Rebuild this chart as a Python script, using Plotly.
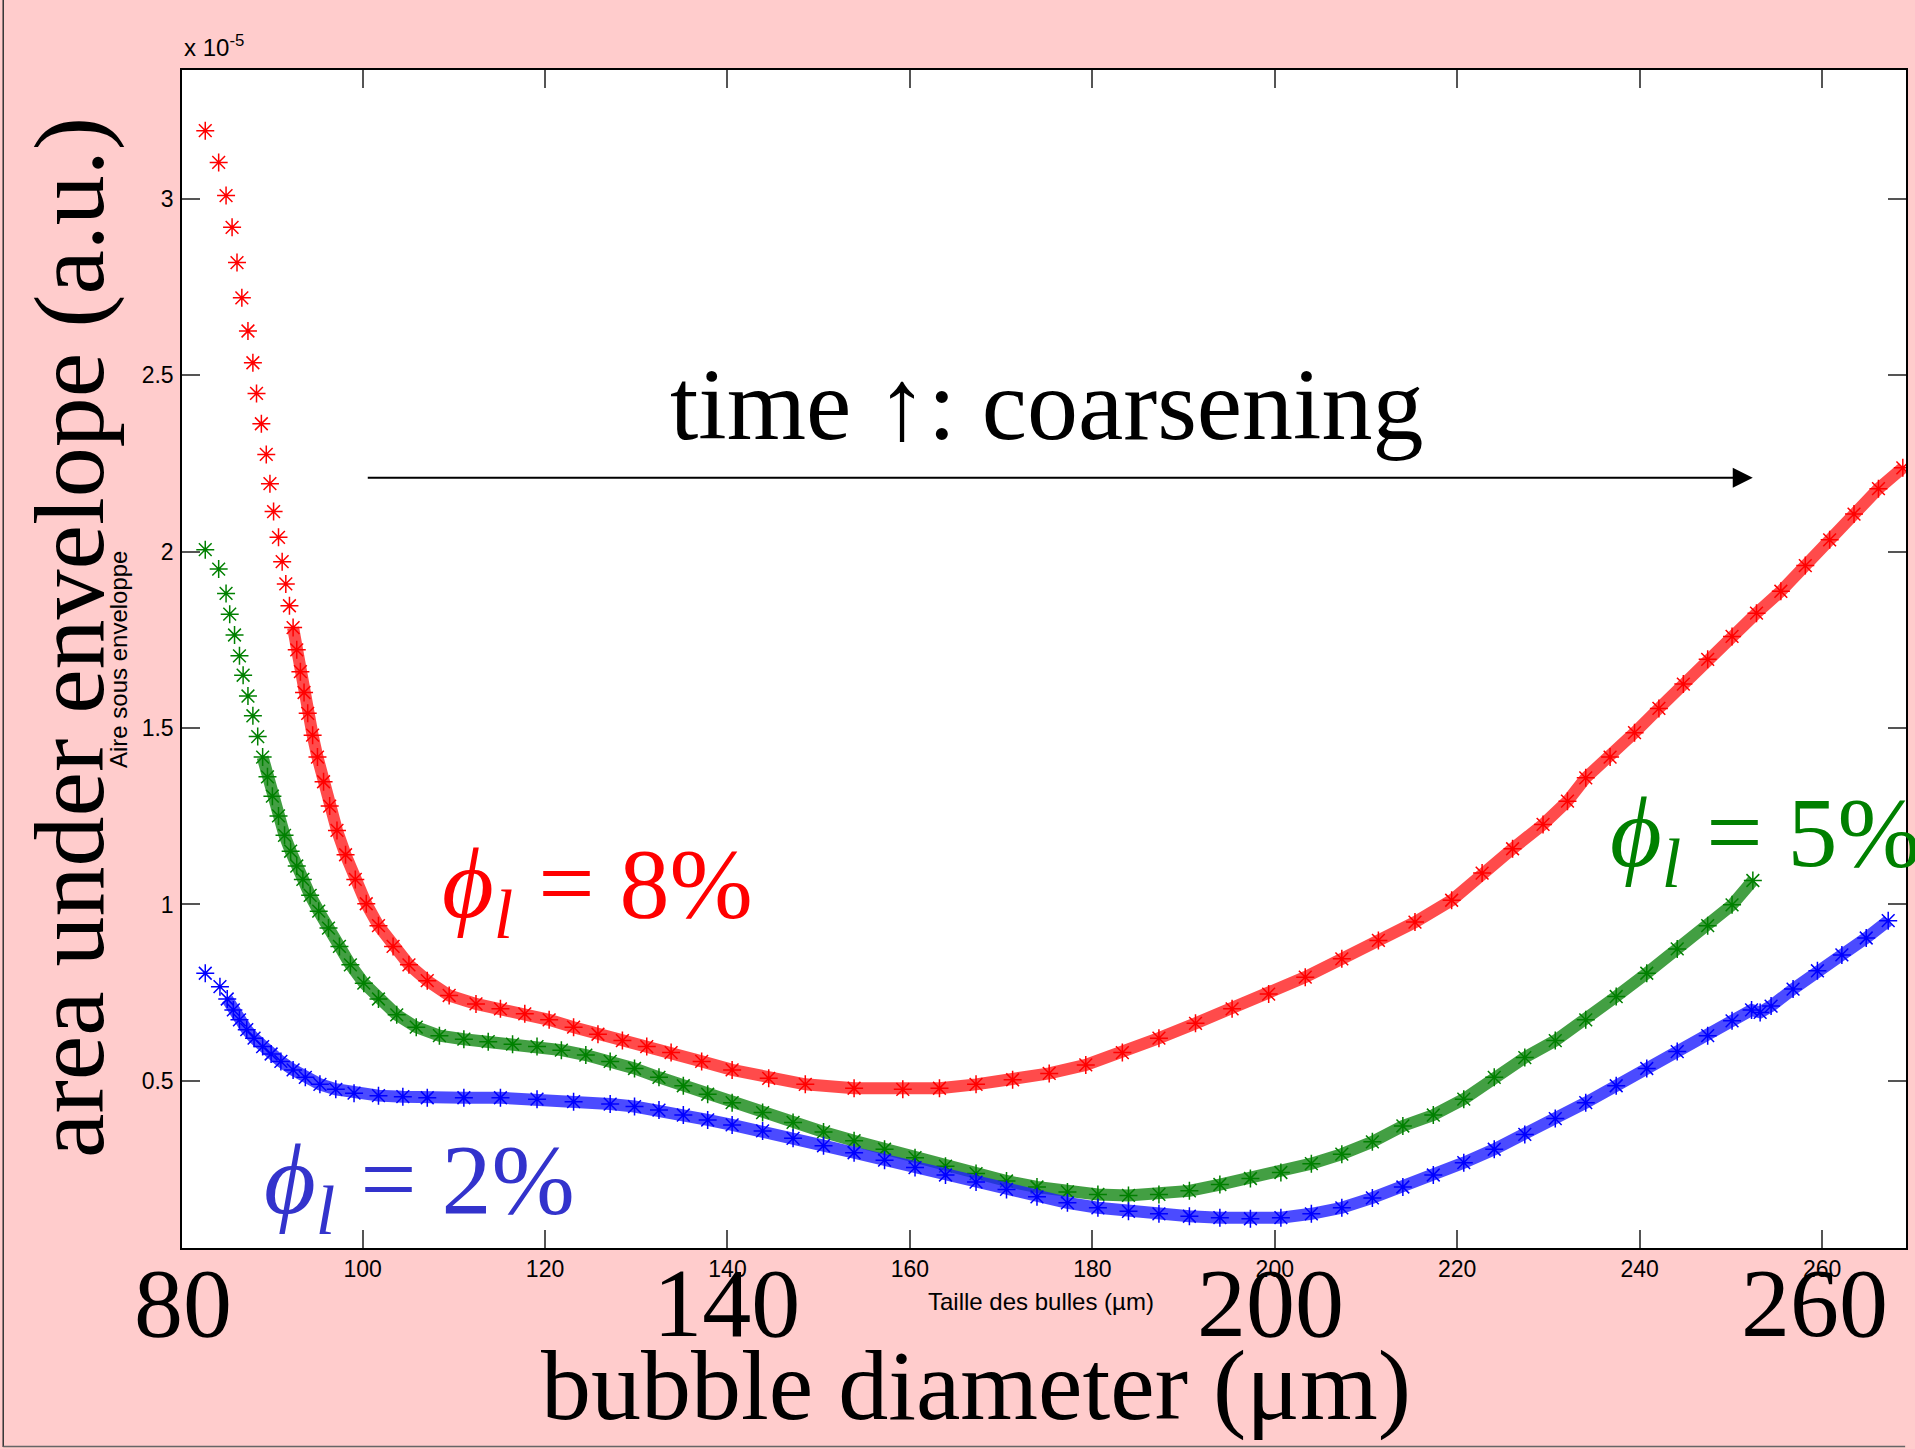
import plotly.graph_objects as go

# ---------------- data (area under envelope, units of 1e-5) ----------------
red_x = [82.75, 84.22, 85.03, 85.69, 86.23, 86.76, 87.43, 87.97, 88.37, 88.90, 89.44, 89.84, 90.24, 90.78, 91.18, 91.58, 91.98,
         92.38, 92.78, 93.18, 93.58, 93.98, 94.52, 95.05, 95.72, 96.39, 97.19, 98.13, 99.20, 100.40, 101.74, 103.34, 105.08,
         107.09, 109.49, 112.43, 115.11, 117.78, 120.45, 123.13, 125.80, 128.48, 131.15, 133.82, 137.17, 140.51, 144.52,
         148.53, 153.88, 159.22, 163.24, 167.25, 171.26, 175.27, 179.28, 183.29, 187.30, 191.31, 195.32, 199.33, 203.34,
         207.35, 211.36, 215.37, 219.39, 222.73, 226.07, 229.41, 232.09, 234.09, 236.76, 239.44, 242.11, 244.79, 247.46,
         250.13, 252.81, 255.48, 258.16, 260.83, 263.50, 266.18, 268.85]
red_y = [3.194, 3.104, 3.010, 2.920, 2.820, 2.720, 2.626, 2.536, 2.449, 2.363, 2.276, 2.193, 2.114, 2.041, 1.972, 1.909, 1.847,
         1.785, 1.722, 1.660, 1.601, 1.542, 1.480, 1.418, 1.348, 1.279, 1.210, 1.141, 1.071, 1.002, 0.940, 0.881, 0.829,
         0.784, 0.742, 0.718, 0.704, 0.690, 0.673, 0.652, 0.632, 0.614, 0.597, 0.580, 0.555, 0.531, 0.507,
         0.490, 0.479, 0.476, 0.479, 0.490, 0.503, 0.521, 0.545, 0.580, 0.621, 0.663, 0.704, 0.746, 0.794,
         0.846, 0.898, 0.950, 1.012, 1.089, 1.158, 1.227, 1.293, 1.359, 1.418, 1.487, 1.556, 1.625, 1.695,
         1.760, 1.826, 1.888, 1.961, 2.034, 2.107, 2.179, 2.238]

green_x = [82.75, 84.22, 85.03, 85.43, 85.96, 86.50, 86.90, 87.43, 87.97, 88.50, 89.04, 89.57, 90.11, 90.78, 91.44, 92.11,
           92.78, 93.45, 94.25, 95.19, 96.26, 97.46, 98.66, 100.13, 101.74, 103.74, 105.88, 108.42, 111.10, 113.77, 116.44,
           119.12, 121.79, 124.47, 127.14, 129.81, 132.49, 135.16, 137.83, 140.51, 143.85, 147.19, 150.53, 153.88, 157.22,
           160.56, 163.90, 167.25, 170.59, 173.93, 177.27, 180.61, 183.96, 187.30, 190.64, 193.98, 197.33, 200.67, 204.01,
           207.35, 210.70, 214.04, 217.38, 220.72, 224.06, 227.41, 230.75, 234.09, 237.43, 240.78, 244.12, 247.46, 250.13,
           252.41]
green_y = [2.006, 1.951, 1.882, 1.823, 1.764, 1.705, 1.650, 1.591, 1.535, 1.476, 1.418, 1.362, 1.307, 1.251, 1.196, 1.151,
           1.109, 1.071, 1.026, 0.981, 0.933, 0.881, 0.829, 0.777, 0.732, 0.687, 0.652, 0.628, 0.618, 0.611, 0.604,
           0.597, 0.587, 0.573, 0.555, 0.535, 0.510, 0.486, 0.462, 0.438, 0.410, 0.382, 0.355, 0.330, 0.306,
           0.282, 0.258, 0.237, 0.216, 0.199, 0.185, 0.178, 0.175, 0.178, 0.188, 0.206, 0.223, 0.240, 0.265,
           0.292, 0.327, 0.372, 0.403, 0.448, 0.510, 0.566, 0.614, 0.673, 0.739, 0.805, 0.874, 0.940, 0.999,
           1.068]

blue_x = [82.75, 84.36, 85.16, 85.83, 86.50, 87.30, 88.10, 89.04, 89.97, 91.04, 92.38, 93.72, 95.32, 97.06, 99.06, 101.74,
          104.41, 107.09, 111.10, 115.11, 119.12, 123.13, 127.14, 129.81, 132.49, 135.16, 137.83, 140.51, 143.85, 147.19,
          150.53, 153.88, 157.22, 160.56, 163.90, 167.25, 170.59, 173.93, 177.27, 180.61, 183.96, 187.30, 190.64, 193.98,
          197.33, 200.67, 204.01, 207.35, 210.70, 214.04, 217.38, 220.72, 224.06, 227.41, 230.75, 234.09, 237.43, 240.78,
          244.12, 247.46, 250.13, 252.27, 253.21, 254.41, 256.82, 259.49, 262.17, 264.84, 267.25]
blue_y = [0.805, 0.767, 0.732, 0.701, 0.673, 0.645, 0.621, 0.597, 0.576, 0.555, 0.531, 0.510, 0.490, 0.476, 0.465, 0.458,
          0.455, 0.452, 0.452, 0.452, 0.448, 0.441, 0.434, 0.427, 0.417, 0.403, 0.389, 0.375, 0.358, 0.337,
          0.316, 0.296, 0.275, 0.254, 0.233, 0.213, 0.192, 0.171, 0.154, 0.140, 0.130, 0.123, 0.116, 0.112,
          0.109, 0.112, 0.123, 0.140, 0.168, 0.199, 0.233, 0.268, 0.306, 0.348, 0.393, 0.438, 0.486, 0.535,
          0.583, 0.628, 0.670, 0.701, 0.694, 0.712, 0.760, 0.812, 0.857, 0.905, 0.954]

x_ticks = [100, 120, 140, 160, 180, 200, 220, 240, 260]
y_ticks = [0.5, 1, 1.5, 2, 2.5, 3]
y_tick_text = ["0.5", "1", "1.5", "2", "2.5", "3"]
big_x_ticks = [80, 140, 200, 260]

series = [
    ("φ = 8%", red_x, red_y, "#FF0000", "rgba(255,30,30,0.80)", 17),
    ("φ = 5%", green_x, green_y, "#008000", "rgba(20,135,20,0.80)", 10),
    ("φ = 2%", blue_x, blue_y, "#0000FF", "rgba(30,30,255,0.80)", 2),
]

SERIF = "Liberation Serif, Times New Roman, serif"
SANS = "Liberation Sans, Arial, Helvetica, sans-serif"

fig = go.Figure()
for name, xs, ys, col, band, start in series:
    fig.add_trace(go.Scatter(x=xs[start:], y=ys[start:], mode="lines", showlegend=False,
                             line=dict(color=band, width=12), hoverinfo="skip"))
    fig.add_trace(go.Scatter(x=xs, y=ys, mode="markers", name=name, showlegend=False,
                             marker=dict(symbol="asterisk-open", size=15, color=col,
                                         line=dict(color=col, width=1.5))))

# invisible trace carrying the big slide axis (80, 140, 200, 260)
fig.add_trace(go.Scatter(x=big_x_ticks, y=[None] * len(big_x_ticks), xaxis="x2", yaxis="y",
                         mode="markers", showlegend=False, hoverinfo="skip"))

axis_common = dict(showgrid=False, zeroline=False, showline=True, linecolor="black", linewidth=1.5,
                   mirror="ticks", ticks="inside", ticklen=18, tickwidth=1.5, tickcolor="#555555",
                   tickfont=dict(family=SANS, size=23, color="black"))

fig.update_layout(
    width=1915, height=1449, autosize=False,
    margin=dict(l=182, r=7, t=70, b=201, pad=0),
    paper_bgcolor="#FFCCCC", plot_bgcolor="white",
    xaxis=dict(range=[80.2, 269.2], tickvals=x_ticks, ticklabelstandoff=0, **axis_common),
    yaxis=dict(range=[0.026, 3.366], tickvals=y_ticks, ticktext=y_tick_text, ticklabelstandoff=2, **axis_common),
    xaxis2=dict(overlaying="x", anchor="y", side="bottom", range=[79.9, 270.1], tickvals=big_x_ticks,
                ticks="", showline=False, showgrid=False, zeroline=False, ticklabelstandoff=-11,
                tickfont=dict(family=SERIF, size=98, color="black")),
)

annotations = [
    dict(text="x 10<sup>-5</sup>", xref="paper", yref="paper", x=0.0, y=1.006, xanchor="left", yanchor="bottom",
         showarrow=False, font=dict(family=SANS, size=24, color="black")),
    dict(text="time ↑: coarsening", xref="x", yref="y", x=133.5, y=2.418, xanchor="left", yanchor="middle",
         showarrow=False, font=dict(family=SERIF, size=102, color="black")),
    dict(text="", xref="x", yref="y", axref="x", ayref="y", x=252.4, y=2.210, ax=100.4, ay=2.210,
         showarrow=True, arrowhead=2, arrowsize=2, arrowwidth=2, arrowcolor="black"),
    dict(text="<i>ϕ</i><sub><i>l</i></sub> = 8%", xref="x", yref="y", x=108.5, y=1.041, xanchor="left",
         yanchor="middle", showarrow=False, font=dict(family=SERIF, size=100, color="#FF0000")),
    dict(text="<i>ϕ</i><sub><i>l</i></sub> = 2%", xref="x", yref="y", x=89.0, y=0.199, xanchor="left",
         yanchor="middle", showarrow=False, font=dict(family=SERIF, size=100, color="#3333CC")),
    dict(text="<i>ϕ</i><sub><i>l</i></sub> = 5%", xref="x", yref="y", x=236.5, y=1.183, xanchor="left",
         yanchor="middle", showarrow=False, font=dict(family=SERIF, size=100, color="#008000")),
    dict(text="area under envelope (a.u.)", xref="paper", yref="paper", x=-0.0649, y=0.518, textangle=-90,
         xanchor="center", yanchor="middle", showarrow=False, font=dict(family=SERIF, size=100, color="black")),
    dict(text="Aire sous enveloppe", xref="paper", yref="paper", x=-0.0365, y=0.4992, textangle=-90,
         xanchor="center", yanchor="middle", showarrow=False, font=dict(family=SANS, size=24, color="black")),
    dict(text="bubble diameter (μm)", xref="paper", yref="paper", x=0.4606, y=-0.1163,
         xanchor="center", yanchor="middle", showarrow=False, font=dict(family=SERIF, size=100, color="black")),
    dict(text="Taille des bulles (µm)", xref="paper", yref="paper", x=0.4983, y=-0.0458,
         xanchor="center", yanchor="middle", showarrow=False, font=dict(family=SANS, size=24, color="black")),
]
fig.update_layout(annotations=annotations)

# slide border lines
fig.update_layout(shapes=[
    dict(type="line", xref="paper", yref="paper", x0=-0.1037, x1=-0.1037, y0=-0.169, y1=1.0594,
         line=dict(color="#333333", width=1.5)),
    dict(type="line", xref="paper", yref="paper", x0=-0.1037, x1=0.9995, y0=-0.1686, y1=-0.1686,
         line=dict(color="#666666", width=1.5)),
])

fig.write_html("out.html")
